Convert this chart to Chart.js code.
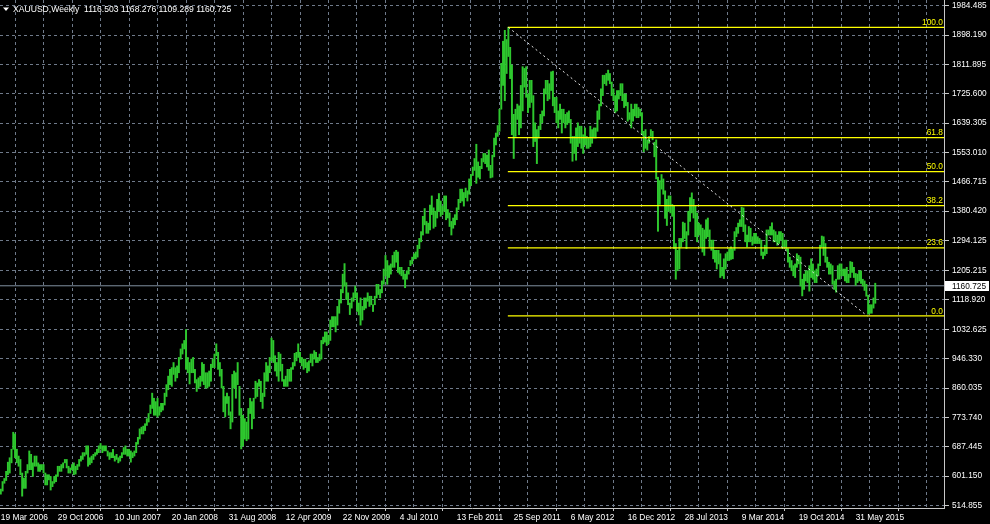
<!DOCTYPE html>
<html><head><meta charset="utf-8">
<script src="https://cdn.jsdelivr.net/npm/chart.js@4/dist/chart.umd.min.js"></script>
<style>html,body{margin:0;padding:0;background:#000;}canvas{display:block}</style>
</head><body>
<div style="width:990px;height:524px"><canvas id="c" width="990" height="524"></canvas></div>
<script>
// ---------- data ----------
const symbolTitle = "XAUUSD,Weekly";
const lastBarOHLC = [1116.503, 1168.276, 1109.289, 1160.725];
const currentPrice = 1160.725;

// weekly lows / highs, one per week starting 19 Mar 2006
const weekLows = [
548,557,580,588,605,610,640,680,655,640,
630,605,542,565,565,610,620,620,600,630,
630,615,615,620,610,575,575,590,560,570,
580,585,600,615,615,625,640,625,610,610,
620,605,607,620,630,645,650,660,665,630,
635,640,650,660,665,670,680,670,675,675,
660,650,655,655,645,650,640,645,655,665,
665,660,660,642,655,660,670,695,710,725,
725,735,750,760,785,800,780,780,775,780,
790,795,810,835,855,870,865,900,880,890,
905,945,960,975,915,905,872,905,905,875,
850,860,865,880,870,860,860,865,880,920,
920,955,915,895,860,790,775,815,780,740,
760,860,830,870,780,681,690,710,705,710,
785,740,770,830,835,865,820,800,835,880,
880,905,940,935,910,895,880,910,880,865,
865,865,880,880,915,925,940,950,935,925,
915,920,905,910,935,925,945,935,935,940,
945,990,995,985,990,1000,1040,1040,1025,1045,
1080,1110,1140,1160,1120,1105,1076,1095,1115,1125,
1085,1075,1045,1060,1090,1095,1115,1100,1105,1085,
1105,1125,1135,1125,1140,1165,1190,1165,1185,1195,
1215,1215,1230,1200,1195,1190,1180,1155,1180,1195,
1220,1225,1240,1240,1245,1270,1290,1310,1340,1315,
1315,1325,1370,1330,1335,1360,1380,1365,1370,1380,
1355,1360,1335,1310,1330,1340,1355,1385,1405,1410,
1395,1420,1410,1430,1455,1485,1500,1462,1480,1475,
1505,1525,1520,1510,1500,1478,1480,1540,1575,1600,
1615,1680,1750,1705,1785,1835,1770,1605,1535,1600,
1650,1605,1625,1675,1745,1715,1670,1685,1700,1570,
1585,1520,1595,1620,1640,1660,1725,1705,1710,1735,
1690,1670,1640,1625,1650,1610,1640,1625,1635,1640,
1580,1527,1550,1530,1570,1580,1565,1550,1575,1565,
1565,1570,1580,1595,1595,1615,1650,1690,1720,1755,
1750,1765,1755,1720,1705,1670,1675,1710,1720,1705,
1685,1690,1645,1650,1625,1645,1660,1655,1655,1660,
1605,1555,1565,1560,1580,1600,1590,1540,1475,1321,
1400,1445,1430,1359,1338,1380,1375,1365,1270,1180,
1205,1210,1275,1290,1300,1270,1310,1350,1375,1360,
1305,1290,1310,1275,1260,1250,1300,1305,1275,1265,
1240,1230,1210,1225,1185,1190,1182,1210,1235,1235,
1238,1240,1265,1305,1315,1335,1335,1320,1290,1275,
1290,1290,1280,1285,1285,1285,1285,1250,1240,1250,
1255,1310,1310,1310,1290,1290,1280,1285,1295,1270,
1275,1265,1230,1215,1205,1190,1185,1215,1225,1160,
1131,1150,1175,1170,1145,1185,1180,1170,1170,1190,
1220,1275,1250,1230,1215,1195,1195,1165,1150,1142,
1180,1180,1190,1190,1175,1170,1170,1185,1200,1185,
1162,1170,1175,1168,1160,1147,1130,1077,1080,1080,
1095,1109.289
];
const weekHighs = [
563,585,594,615,642,655,680,730,725,680,
660,650,610,595,615,635,675,665,640,660,
660,640,635,635,635,610,605,605,600,585,
600,605,630,630,635,640,650,650,630,625,
635,640,630,635,650,660,670,670,690,690,
655,660,665,670,680,690,697,690,690,690,
675,670,670,680,660,665,655,660,670,685,
690,680,680,675,670,675,700,715,740,745,
748,755,770,785,810,845,830,820,830,805,
815,815,845,870,895,915,920,935,920,925,
950,975,990,1000,1032,950,935,945,950,915,
885,890,895,935,930,905,905,910,930,945,
960,990,965,935,915,865,835,845,835,790,
900,910,905,935,865,800,780,770,760,800,
830,820,830,880,875,885,880,845,905,935,
925,950,1007,1000,955,935,965,960,930,885,
895,915,915,920,935,962,965,990,965,950,
945,945,935,940,960,960,970,965,950,960,
1000,1010,1025,1025,1015,1060,1070,1070,1070,1100,
1120,1150,1195,1226,1170,1140,1110,1125,1140,1160,
1140,1110,1125,1100,1125,1125,1140,1130,1130,1105,
1130,1165,1165,1150,1175,1210,1250,1235,1220,1225,
1250,1260,1265,1260,1215,1215,1205,1195,1205,1215,
1235,1245,1255,1260,1280,1300,1320,1365,1388,1350,
1345,1398,1425,1390,1380,1415,1432,1410,1395,1425,
1425,1385,1375,1350,1360,1370,1390,1415,1445,1445,
1435,1448,1440,1475,1488,1510,1535,1577,1525,1512,
1535,1550,1550,1545,1560,1515,1545,1595,1610,1632,
1680,1815,1880,1912,1885,1921,1862,1810,1665,1680,
1695,1690,1750,1805,1800,1805,1725,1765,1765,1720,
1640,1620,1630,1665,1675,1740,1765,1765,1755,1790,
1792,1715,1715,1675,1695,1680,1680,1665,1670,1675,
1650,1600,1600,1625,1640,1630,1630,1605,1625,1600,
1595,1630,1620,1625,1625,1675,1695,1740,1780,1780,
1785,1795,1785,1760,1740,1720,1735,1735,1755,1755,
1725,1725,1700,1670,1695,1680,1695,1695,1685,1680,
1670,1615,1620,1590,1600,1620,1615,1583,1590,1480,
1470,1488,1475,1440,1415,1425,1425,1400,1395,1285,
1265,1300,1300,1348,1345,1320,1380,1420,1434,1415,
1395,1375,1345,1340,1330,1325,1355,1360,1325,1295,
1295,1265,1265,1265,1255,1215,1240,1255,1260,1270,
1275,1270,1320,1332,1345,1355,1392,1390,1340,1310,
1335,1330,1305,1315,1315,1305,1300,1295,1260,1280,
1325,1325,1335,1346,1325,1320,1310,1320,1320,1315,
1295,1295,1270,1245,1235,1220,1225,1255,1250,1245,
1180,1195,1205,1205,1220,1240,1225,1205,1210,1225,
1280,1307,1305,1285,1245,1230,1225,1220,1175,1180,
1220,1225,1225,1210,1210,1215,1195,1232,1230,1215,
1197,1195,1205,1205,1180,1175,1165,1133,1105,1105,
1125,1168.276
];

// date labels on the time axis, one every 32 weeks from week 0
const xTickLabels = ["19 Mar 2006","29 Oct 2006","10 Jun 2007","20 Jan 2008","31 Aug 2008","12 Apr 2009",
  "22 Nov 2009","4 Jul 2010","13 Feb 2011","25 Sep 2011","6 May 2012","16 Dec 2012","28 Jul 2013",
  "9 Mar 2014","19 Oct 2014","31 May 2015"];
// price labels on the right axis
const yTickValues = [1984.485,1898.190,1811.895,1725.600,1639.305,1553.010,1466.715,1380.420,1294.125,
  1205.215,1118.920,1032.625,946.330,860.035,773.740,687.445,601.150,514.855];

// Fibonacci retracement (high of Sep 2011 -> low of Jul 2015)
const fibLevels = [0.0, 23.6, 38.2, 50.0, 61.8, 100.0];
const fibHighPrice = 1920.8, fibLowPrice = 1072.1;
const fibHighWeek = 285, fibLowWeek = 487;

// ---------- view ----------
const xMin = -0.45, xMax = 529.6, yMin = 507.2, yMax = 2001.2;
const GREEN = '#2ec82e', YELLOW = '#ffff00', GRID = '#6f7a8a', AXIS = '#c8c8c8';
const FONT = 'Liberation Sans, Arial, sans-serif';

const barData = weekLows.map((lo, i) => ({x: i, y: [lo, weekHighs[i]]}));
const fibPrice = lv => fibLowPrice + (fibHighPrice - fibLowPrice) * lv / 100;

const datasets = [{
  type: 'bar', data: barData, backgroundColor: GREEN, borderWidth: 0,
  barThickness: 1.3, grouped: false, order: 5
}];
fibLevels.forEach(lv => datasets.push({
  type: 'line', data: [{x: fibHighWeek - 0.3, y: fibPrice(lv)}, {x: xMax, y: fibPrice(lv)}],
  borderColor: YELLOW, borderWidth: 1.2, pointRadius: 0, order: 1
}));
datasets.push({
  type: 'line', data: [{x: fibHighWeek, y: fibHighPrice}, {x: fibLowWeek - 0.5, y: fibLowPrice}],
  borderColor: '#e8e8e8', borderWidth: 1, borderDash: [2, 3], pointRadius: 0, order: 0
});
datasets.push({
  type: 'line', data: [{x: xMin, y: currentPrice}, {x: xMax, y: currentPrice}],
  borderColor: '#8090a0', borderWidth: 1, pointRadius: 0, order: 6
});

const overlay = {
  id: 'overlay',
  beforeDraw(chart) {
    const c = chart.ctx;
    c.save(); c.fillStyle = '#000'; c.fillRect(0, 0, chart.width, chart.height); c.restore();
  },
  afterDraw(chart) {
    const c = chart.ctx, ys = chart.scales.y, area = chart.chartArea;
    c.save();
    // title
    c.fillStyle = '#fff';
    c.beginPath(); c.moveTo(3, 7.5); c.lineTo(9, 7.5); c.lineTo(6, 11); c.closePath(); c.fill();
    c.font = '8.6px ' + FONT; c.textBaseline = 'middle'; c.textAlign = 'left';
    c.fillText(symbolTitle + '  ' + lastBarOHLC.map(v => v.toFixed(3)).join(' '), 13, 9.5);
    // fib labels
    c.fillStyle = YELLOW; c.textAlign = 'right'; c.textBaseline = 'bottom'; c.font = '8.4px ' + FONT;
    fibLevels.forEach(lv => {
      const y = ys.getPixelForValue(fibPrice(lv));
      c.fillText(lv.toFixed(1), area.right - 1, y - 0.5);
    });
    // current price box
    const py = Math.round(ys.getPixelForValue(currentPrice));
    c.fillStyle = '#fff'; c.fillRect(area.right + 1, py - 5, chart.width - area.right - 2, 10);
    c.fillStyle = '#000'; c.textAlign = 'left'; c.textBaseline = 'middle'; c.font = '8.3px ' + FONT;
    c.fillText(currentPrice.toFixed(3), area.right + 8, py + 0.5);
    c.restore();
  }
};

new Chart(document.getElementById('c'), {
  data: {datasets},
  options: {
    responsive: false, animation: false, devicePixelRatio: 1,
    layout: {padding: 0},
    plugins: {legend: {display: false}, tooltip: {enabled: false}, title: {display: false}},
    scales: {
      x: {
        type: 'linear', min: xMin, max: xMax, offset: false,
        afterBuildTicks: s => { s.ticks = []; for (let v = 0; v <= xMax; v += 16) s.ticks.push({value: v}); },
        afterFit: s => { s.height = 16; s.paddingLeft = 0; s.paddingRight = 0; },
        ticks: {
          autoSkip: false, maxRotation: 0, minRotation: 0, align: 'start', padding: 2,
          color: '#fff', font: {family: FONT, size: 8.4},
          callback: v => (v % 32 === 0 && v / 32 < xTickLabels.length) ? xTickLabels[v / 32] : ''
        },
        grid: {color: GRID, lineWidth: 1, drawTicks: true, tickLength: 3,
          tickColor: ctx => (ctx.tick && ctx.tick.value % 32 === 0) ? AXIS : 'rgba(0,0,0,0)'},
        border: {display: true, color: AXIS, width: 1, dash: [3, 3]}
      },
      y: {
        type: 'linear', position: 'right', min: yMin, max: yMax,
        afterBuildTicks: s => { s.ticks = yTickValues.map(v => ({value: v})); },
        afterFit: s => { s.width = 46; s.paddingTop = 0; s.paddingBottom = 0; },
        ticks: {autoSkip: false, padding: 3, color: '#fff', font: {family: FONT, size: 8.3},
          callback: v => v.toFixed(3)},
        grid: {color: GRID, lineWidth: 1, drawTicks: true, tickLength: 5, tickColor: AXIS},
        border: {display: true, color: AXIS, width: 1, dash: [3, 3]}
      }
    }
  },
  plugins: [overlay]
});
</script>
</body></html>
